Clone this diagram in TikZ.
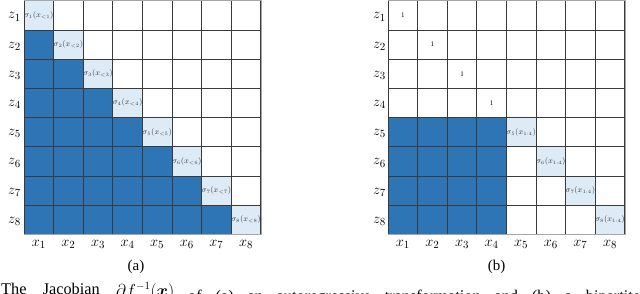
\documentclass[tikz,border=0pt]{standalone}
\usepackage{amsmath,bm}
\usepackage{fontspec}
\setmainfont{Liberation Serif}
\definecolor{dblue}{HTML}{2E75B6}
\definecolor{lblue}{HTML}{DDEBF7}
\definecolor{gline}{HTML}{3A3A3A}
\definecolor{gedge}{HTML}{A6A6A6}
\definecolor{ltext}{HTML}{404040}
\newcommand\capfrac{\raisebox{-9pt}{$\vcenter{\offinterlineskip\halign{\hfil##\hfil\cr $\partial f^{-1}(\bm{x})$\cr \noalign{\kern1pt\hrule\kern1.5pt} $\partial\bm{x}$\cr}}$}}
\tikzset{
  cellbase/.style={rectangle, inner sep=0pt, minimum width=29.6pt, minimum height=29.2pt, draw=gline, line width=0.8pt},
  cellw/.style={cellbase, fill=white},
  celld/.style={cellbase, fill=dblue},
  celll/.style={cellbase, fill=lblue, text=ltext, font=\fontsize{7.6}{8}\selectfont},
  cellone/.style={cellbase, fill=white, text=black, font=\fontsize{7}{8}\selectfont},
  axlab/.style={inner sep=0pt, font=\fontsize{15}{16}\selectfont},
  sublab/.style={inner sep=0pt, font=\fontsize{15}{16}\selectfont},
  captext/.style={anchor=base west, inner sep=0pt, font=\fontsize{16.3}{19}\selectfont},
  edge/.style={draw=gedge, line width=1pt}
}
\begin{document}
\begin{tikzpicture}[x=1pt,y=-1pt]
\useasboundingbox (0,0) rectangle (640,294);
\clip (0,0) rectangle (640,294);
% ---- left grid (a)
\foreach \i in {1,...,8}{
  \foreach \j in {1,...,8}{
    \pgfmathsetmacro\cx{24+(\j-0.5)*29.6}
    \pgfmathsetmacro\cy{0.8+(\i-0.5)*29.2}
    \ifnum\j<\i
      \node[celld] (a-\i-\j) at (\cx,\cy) {};
    \else\ifnum\j=\i
      \node[celll] (a-\i-\j) at (\cx,\cy) {$\sigma_{\i}(x_{<\i})$};
    \else
      \node[cellw] (a-\i-\j) at (\cx,\cy) {};
    \fi\fi
  }
}
% ---- right grid (b)
\foreach \i in {1,...,8}{
  \foreach \j in {1,...,8}{
    \pgfmathsetmacro\cx{388+(\j-0.5)*29.6}
    \pgfmathsetmacro\cy{0.8+(\i-0.5)*29.2}
    \ifnum\i<5
      \ifnum\j=\i
        \node[cellone] (b-\i-\j) at (\cx,\cy) {1};
      \else
        \node[cellw] (b-\i-\j) at (\cx,\cy) {};
      \fi
    \else
      \ifnum\j<5
        \node[celld] (b-\i-\j) at (\cx,\cy) {};
      \else\ifnum\j=\i
        \node[celll] (b-\i-\j) at (\cx,\cy) {$\sigma_{\i}(x_{1:4})$};
      \else
        \node[cellw] (b-\i-\j) at (\cx,\cy) {};
      \fi\fi
    \fi
  }
}
% outer light edges
\draw[edge] (a-1-1.north west) -- (a-1-8.north east) -- (a-8-8.south east) -- (a-8-1.south west);
\draw[edge] (b-1-1.north west) -- (b-1-8.north east) -- (b-8-8.south east) -- (b-8-1.south west);
% axis labels
\foreach \k in {1,...,8}{
  \pgfmathsetmacro\ry{0.8+(\k-0.5)*29.2+1.5}
  \pgfmathsetmacro\lx{24+(\k-0.5)*29.6}
  \pgfmathsetmacro\rx{388+(\k-0.5)*29.6}
  \node[axlab] (za-\k) at (14.5,\ry) {$z_{\k}$};
  \node[axlab] (xa-\k) at (\lx,244) {$x_{\k}$};
  \node[axlab] (zb-\k) at (379.5,\ry) {$z_{\k}$};
  \node[axlab] (xb-\k) at (\rx,244) {$x_{\k}$};
}
\node[sublab] (suba) at (136,266.5) {(a)};
\node[sublab] (subb) at (496.5,266.5) {(b)};
% caption (cut off at the bottom of the picture)
\node[captext] (cap1) at (1,294.3)
  {\makebox[173pt][s]{The Jacobian \capfrac}};
\node[captext] (cap2) at (188,301.3)
  {\makebox[452pt][s]{of (a) an autoregressive transformation and (b) a bipartite}};
\end{tikzpicture}
\end{document}
